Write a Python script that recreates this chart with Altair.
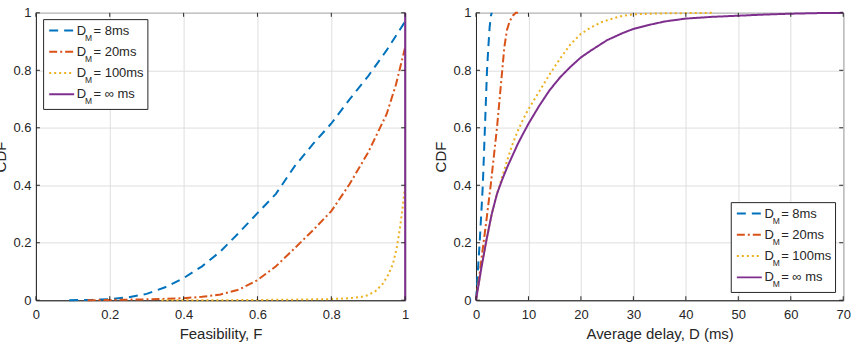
import altair as alt
import pandas as pd

# ---- Left panel: CDF of feasibility F ----
feas_8_x = [0.09, 0.15, 0.2, 0.25, 0.3, 0.35, 0.4, 0.45, 0.5, 0.55, 0.6, 0.65, 0.7, 0.75, 0.8, 0.85, 0.9, 0.95, 1.0]
feas_8_y = [0.0, 0.001, 0.004, 0.01, 0.022, 0.045, 0.077, 0.118, 0.17, 0.235, 0.303, 0.37, 0.465, 0.543, 0.615, 0.70, 0.78, 0.87, 0.97]

feas_20_x = [0.14, 0.2, 0.3, 0.4, 0.45, 0.5, 0.55, 0.6, 0.65, 0.7, 0.75, 0.8, 0.85, 0.9, 0.95, 0.975, 1.0]
feas_20_y = [0.0, 0.001, 0.003, 0.007, 0.012, 0.02, 0.037, 0.07, 0.118, 0.18, 0.243, 0.31, 0.405, 0.515, 0.648, 0.75, 0.88]

feas_100_x = [0.34, 0.5, 0.6, 0.7, 0.8, 0.85, 0.88, 0.9, 0.92, 0.94, 0.955, 0.967, 0.977, 0.985, 0.993, 1.0]
feas_100_y = [0.0, 0.0, 0.001, 0.002, 0.004, 0.007, 0.011, 0.018, 0.032, 0.058, 0.09, 0.127, 0.18, 0.243, 0.32, 0.4]

feas_inf_x = [1.0, 1.0]
feas_inf_y = [0.0, 1.0]

# ---- Right panel: CDF of average delay D (ms) ----
delay_8_x = [0, 0.35, 0.7, 1.0, 1.3, 1.5, 1.7, 1.9, 2.1, 2.35, 2.6, 2.85, 3.0]
delay_8_y = [0.0, 0.1, 0.2, 0.3, 0.4, 0.5, 0.6, 0.7, 0.8, 0.88, 0.95, 0.99, 1.0]

delay_20_x = [0, 0.6, 1.3, 2.0, 2.8, 3.4, 4.0, 4.5, 5.0, 5.4, 5.9, 6.4, 7.0, 7.6, 8.0]
delay_20_y = [0.0, 0.08, 0.18, 0.28, 0.4, 0.5, 0.6, 0.7, 0.8, 0.88, 0.94, 0.97, 0.99, 1.0, 1.0]

delay_100_x = [0, 1, 2, 3, 4, 5, 6, 7, 8, 9, 10, 12, 14, 16, 18, 20, 22, 24, 26, 28, 30, 35, 40, 45]
delay_100_y = [0.0, 0.11, 0.21, 0.3, 0.37, 0.43, 0.49, 0.545, 0.59, 0.63, 0.665, 0.725, 0.785, 0.84, 0.89, 0.927,
               0.95, 0.968, 0.98, 0.99, 0.995, 0.998, 0.999, 1.0]

delay_inf_x = [0, 1, 2, 3, 4, 5, 6, 7, 8, 9, 10, 12, 14, 16, 18, 20, 22, 25, 28, 30, 33, 36, 40, 45, 50, 55, 60, 65, 70]
delay_inf_y = [0.0, 0.11, 0.21, 0.3, 0.37, 0.42, 0.465, 0.505, 0.545, 0.58, 0.614, 0.675, 0.73, 0.775, 0.812, 0.845,
               0.87, 0.905, 0.93, 0.944, 0.958, 0.97, 0.98, 0.986, 0.99, 0.994, 0.997, 0.999, 1.0]

# ---- Series, ticks, legend text ----
series = ["8ms", "20ms", "100ms", "inf"]
legend_text = ["= 8ms", "= 20ms", "= 100ms", "= \u221e ms"]
feas_ticks = [0, 0.2, 0.4, 0.6, 0.8, 1]
delay_ticks = [0, 10, 20, 30, 40, 50, 60, 70]
cdf_ticks = [0, 0.2, 0.4, 0.6, 0.8, 1]

# ---- Styling ----
FONT = "Liberation Sans"
INK = "#262626"
GRID = "#dedede"
COLORS = ["#0072BD", "#D95319", "#EDB120", "#7E2F8E"]
DASHES = [[9, 6], [8, 3, 2, 3], [2, 3], [1, 0]]
H = 288
TICK_LEN = 4
BOX_W, BOX_H = 104.5, 90
ROW0, ROW_STEP = 11, 21.3

color_enc = alt.Color("series:N", scale=alt.Scale(domain=series, range=COLORS), legend=None)
dash_enc = alt.StrokeDash("series:N", scale=alt.Scale(domain=series, range=DASHES), legend=None)


def curves_frame(xs_list, ys_list):
    rows = []
    for s, xs, ys in zip(series, xs_list, ys_list):
        for i, (x, y) in enumerate(zip(xs, ys)):
            rows.append({"series": s, "i": i, "x": x, "y": y})
    return pd.DataFrame(rows)


legend_df = pd.DataFrame({"series": series, "idx": list(range(len(series))), "label": legend_text})
one_row = pd.DataFrame({"k": [0]})


def legend_layers(lx, ly):
    base = alt.Chart(legend_df).transform_calculate(
        ry=f"{ly} + {ROW0} + datum.idx * {ROW_STEP}",
        ty=f"{ly} + {ROW0} + datum.idx * {ROW_STEP} + 4",
        my=f"{ly} + {ROW0} + datum.idx * {ROW_STEP} + 10",
    )
    box = alt.Chart(one_row).mark_rect(fill="white", stroke=INK, strokeWidth=1).encode(
        x=alt.value(lx), x2=alt.value(lx + BOX_W), y=alt.value(ly), y2=alt.value(ly + BOX_H)
    )
    sample = base.mark_rule(strokeWidth=2).encode(
        x=alt.value(lx + 5.6), x2=alt.value(lx + 30.6),
        y=alt.Y("ry:Q", scale=None, axis=None),
        color=color_enc, strokeDash=dash_enc,
    )
    d_txt = base.mark_text(align="left", baseline="alphabetic", font=FONT, fontSize=13, color=INK).encode(
        x=alt.value(lx + 33.3), y=alt.Y("ty:Q", scale=None, axis=None), text=alt.value("D")
    )
    m_txt = base.mark_text(align="left", baseline="alphabetic", font=FONT, fontSize=8.5, color=INK).encode(
        x=alt.value(lx + 41.6), y=alt.Y("my:Q", scale=None, axis=None), text=alt.value("M")
    )
    lab = base.mark_text(align="left", baseline="alphabetic", font=FONT, fontSize=13, color=INK).encode(
        x=alt.value(lx + 50), y=alt.Y("ty:Q", scale=None, axis=None), text="label:N"
    )
    return [box, sample, d_txt, m_txt, lab]


def panel(df, width, x_dom, x_ticks, x_title, lx, ly):
    xs = alt.Scale(domain=x_dom, nice=False, zero=False)
    ys = alt.Scale(domain=[0, 1], nice=False, zero=False)
    x_axis = alt.Axis(values=x_ticks, format="~r", title=x_title, ticks=False, grid=True,
                      labelFlush=False, labelPadding=8, titlePadding=5)
    y_axis = alt.Axis(values=cdf_ticks, format="~r", title="CDF", ticks=False, grid=True,
                      labelFlush=False, labelPadding=5, titlePadding=4)

    lines = alt.Chart(df).mark_line(strokeWidth=2).encode(
        x=alt.X("x:Q", scale=xs, axis=x_axis),
        y=alt.Y("y:Q", scale=ys, axis=y_axis),
        color=color_enc, strokeDash=dash_enc, order="i:Q",
    )

    # inward tick marks on all four sides of the box
    xt = pd.DataFrame({"x": x_ticks})
    yt = pd.DataFrame({"y": cdf_ticks})
    tick_style = dict(color=INK, strokeWidth=1)
    bottom = alt.Chart(xt).mark_rule(**tick_style).encode(
        x=alt.X("x:Q", scale=xs, axis=x_axis), y=alt.value(H), y2=alt.value(H - TICK_LEN))
    top = alt.Chart(xt).mark_rule(**tick_style).encode(
        x=alt.X("x:Q", scale=xs, axis=x_axis), y=alt.value(0), y2=alt.value(TICK_LEN))
    left = alt.Chart(yt).mark_rule(**tick_style).encode(
        y=alt.Y("y:Q", scale=ys, axis=y_axis), x=alt.value(0), x2=alt.value(TICK_LEN))
    right = alt.Chart(yt).mark_rule(**tick_style).encode(
        y=alt.Y("y:Q", scale=ys, axis=y_axis), x=alt.value(width), x2=alt.value(width - TICK_LEN))

    return alt.layer(lines, bottom, top, left, right, *legend_layers(lx, ly)).properties(
        width=width, height=H
    )


feas_df = curves_frame([feas_8_x, feas_20_x, feas_100_x, feas_inf_x],
                       [feas_8_y, feas_20_y, feas_100_y, feas_inf_y])
delay_df = curves_frame([delay_8_x, delay_20_x, delay_100_x, delay_inf_x],
                        [delay_8_y, delay_20_y, delay_100_y, delay_inf_y])

left_panel = panel(feas_df, 370, [0, 1], feas_ticks, "Feasibility, F", 7.7, 6.8)
right_panel = panel(delay_df, 368, [0, 70], delay_ticks, "Average delay, D (ms)", 255.8, 190.2)

chart = alt.hconcat(
    left_panel, right_panel, spacing=71, bounds="flush",
    padding={"left": -7, "top": 5.5, "right": 4.8, "bottom": 0},
).configure_view(
    stroke=INK, strokeWidth=1
).configure_axis(
    labelFont=FONT, titleFont=FONT, labelFontSize=13, titleFontSize=15,
    labelColor=INK, titleColor=INK, titleFontWeight="normal",
    gridColor=GRID, gridWidth=1, domainColor=INK, domainWidth=1,
).properties(background="white")

chart.save("out.html", embed_options={"renderer": "svg", "actions": False})
